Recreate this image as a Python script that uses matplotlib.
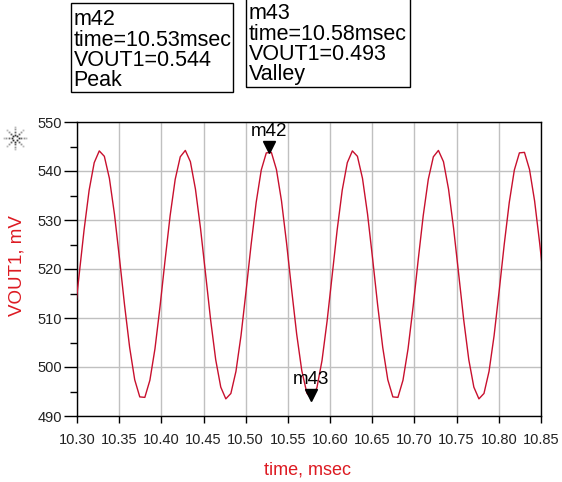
import numpy as np
import matplotlib
matplotlib.use("Agg")
import matplotlib.pyplot as plt
from matplotlib.patches import Rectangle
from matplotlib.lines import Line2D
import matplotlib.transforms as mtransforms

plt.rcParams['font.family'] = ['Liberation Sans', 'DejaVu Sans']

# ---------------- data ----------------
t_start = 10.2964   # msec, first simulation sample (just left of the window)
t_step = 0.006      # msec between samples
vout1_mV = [
    509.3, 518.6, 528.0, 536.1, 541.7, 544.1, 543.0, 538.5, 531.2, 522.1,
    512.6, 504.0, 497.4, 493.9, 493.8, 497.3, 503.7, 512.3, 521.8, 530.9,
    538.3, 542.9, 544.2, 541.9, 536.3, 528.3, 519.0, 509.6, 501.5, 495.9,
    493.5, 494.6, 499.1, 506.4, 515.5, 525.0, 533.6, 540.2, 543.7, 543.8,
    540.3, 533.9, 525.3, 515.8, 506.7, 499.3, 494.7, 493.4, 495.8, 501.3,
    509.3, 518.6, 528.0, 536.1, 541.7, 544.1, 543.0, 538.5, 531.2, 522.1,
    512.6, 504.0, 497.4, 493.9, 493.8, 497.3, 503.7, 512.3, 521.8, 530.9,
    538.3, 542.9, 544.2, 541.9, 536.3, 528.3, 519.0, 509.6, 501.5, 495.9,
    493.5, 494.6, 499.1, 506.4, 515.5, 525.0, 533.6, 540.2, 543.7, 543.8,
    540.3, 533.9, 525.3, 515.8,
]
time_ms = t_start + t_step * np.arange(len(vout1_mV))

x_ticks = [10.30, 10.35, 10.40, 10.45, 10.50, 10.55, 10.60, 10.65, 10.70, 10.75, 10.80, 10.85]
y_ticks = [490, 500, 510, 520, 530, 540, 550]

marker_names = ["m42", "m43"]
marker_time = [10.528, 10.577]
marker_val = [544.1, 493.4]
marker_text = [
    ["m42", "time=10.53msec", "VOUT1=0.544", "Peak"],
    ["m43", "time=10.58msec", "VOUT1=0.493", "Valley"],
]

# ---------------- figure ----------------
W, H = 562, 482
fig = plt.figure(figsize=(W / 100, H / 100), dpi=100)

def fx(x):
    return x / W

def fy(y):
    return 1 - y / H

L, R, T, B = 77, 541, 122, 416
ax = fig.add_axes([fx(L), fy(B), (R - L) / W, (B - T) / H])

curve_red = '#c8102e'
label_red = '#dd1a22'

ax.plot(time_ms, vout1_mV, color=curve_red, lw=1.0, zorder=3)
ax.set_xlim(10.30, 10.85)
ax.set_ylim(490, 550)

ax.set_xticks(x_ticks)
ax.set_xticklabels([f"{v:.2f}" for v in x_ticks])
ax.set_yticks(y_ticks)
ax.set_yticklabels([str(v) for v in y_ticks])
ax.set_yticks(np.arange(495, 550, 10), minor=True)

ax.grid(True, which='major', color='#c0c0c0', lw=1.0, zorder=0)
for s in ax.spines.values():
    s.set_color('black')
    s.set_linewidth(1.0)

ax.tick_params(axis='y', which='major', length=9.5, width=1, pad=1.5,
               labelsize=10.5, colors='black', labelcolor='#222222')
ax.tick_params(axis='y', which='minor', length=5, width=1, colors='black')
ax.tick_params(axis='x', which='major', length=5, width=1, pad=7.5,
               labelsize=10.5, colors='black', labelcolor='#222222')

# axis labels
fig.text(fx(17), fy(266), "VOUT1, mV", rotation=90, color=label_red,
         fontsize=13.5, ha='center', va='center')
fig.text(fx(308), fy(470), "time, msec", color=label_red,
         fontsize=13, ha='center', va='center')

# markers
for name, t, v in zip(marker_names, marker_time, marker_val):
    tr = mtransforms.offset_copy(ax.transData, fig=fig, x=0, y=4, units='dots')
    ax.plot([t], [v], marker='v', color='black', markersize=8.5,
            transform=tr, zorder=5, clip_on=False)
    tr2 = mtransforms.offset_copy(ax.transData, fig=fig, x=0, y=15, units='dots')
    ax.text(t, v, name, transform=tr2, ha='center', va='baseline',
            fontsize=13.5, color='black', zorder=6)

# marker readout boxes
boxes = [(71, 3, 233, 92), (246, -1, 410, 87)]
text_x = [73.5, 249]
baselines = [[25, 45.5, 65.5, 86], [19, 40, 60, 80]]
for (x0, y0, x1, y1), tx, bl, lines in zip(boxes, text_x, baselines, marker_text):
    fig.add_artist(Rectangle((fx(x0), fy(y1)), (x1 - x0) / W, (y1 - y0) / H,
                             transform=fig.transFigure, fill=False,
                             edgecolor='black', lw=1.0))
    for yb, s in zip(bl, lines):
        fig.text(fx(tx), fy(yb), s, fontsize=15.5, ha='left', va='baseline',
                 color='black')

# small dotted starburst icon near the top of the y axis
cx, cy = 15, 138
for ang in np.deg2rad(np.arange(0, 360, 45)):
    for r, c in [(3.5, '#333333'), (6, '#666666'), (8.5, '#999999'), (11, '#bbbbbb')]:
        fig.add_artist(Line2D([fx(cx + r * np.cos(ang))], [fy(cy - r * np.sin(ang))],
                              transform=fig.transFigure, marker='s', markersize=1.3,
                              markeredgewidth=0, color=c, lw=0))

fig.savefig("out.png", dpi=100)
